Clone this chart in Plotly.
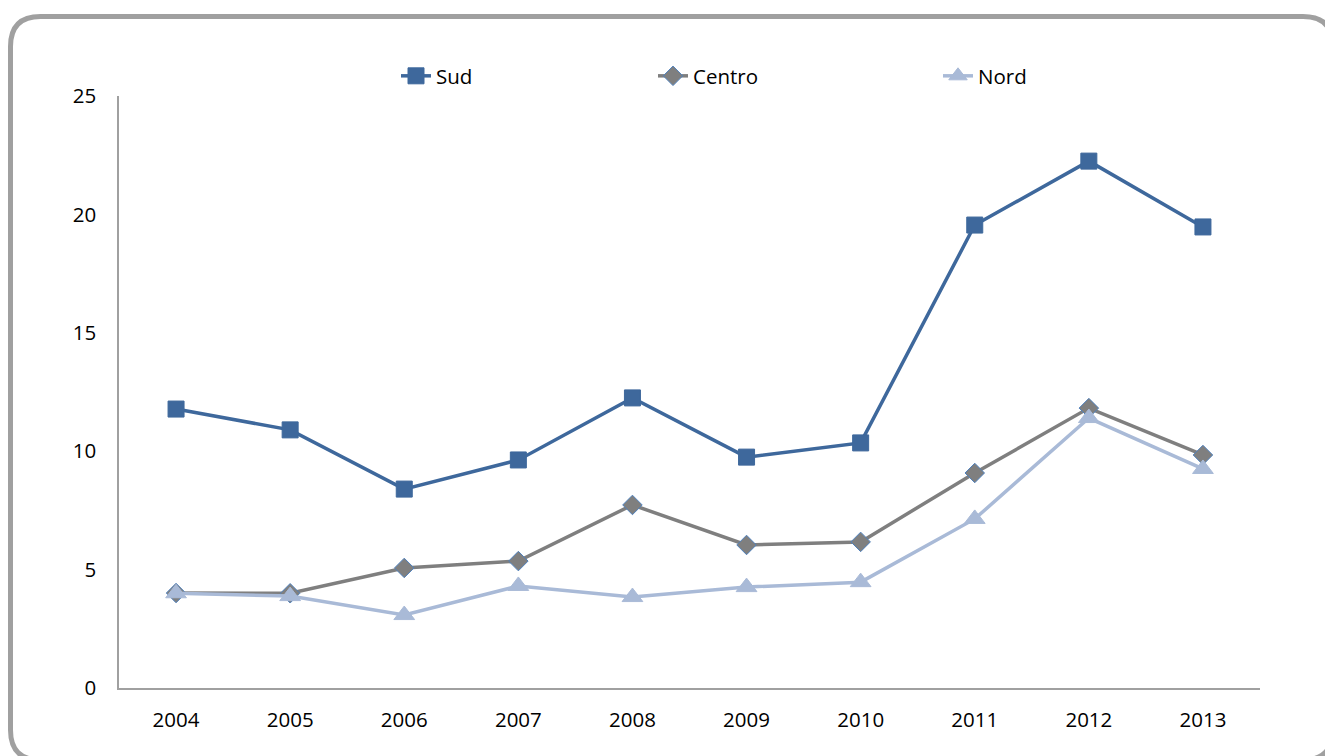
import plotly.graph_objects as go

years = ["2004", "2005", "2006", "2007", "2008", "2009", "2010", "2011", "2012", "2013"]
sud = [11.78, 10.9, 8.4, 9.63, 12.25, 9.75, 10.35, 19.55, 22.25, 19.47]
centro = [4.01, 4.0, 5.07, 5.36, 7.73, 6.04, 6.17, 9.08, 11.82, 9.84]
nord = [4.0, 3.88, 3.08, 4.31, 3.84, 4.26, 4.47, 7.14, 11.4, 9.25]
y_ticks = [0, 5, 10, 15, 20, 25]

FONT = "Open Sans"
FS = 20.5
W, H = 1325, 756
L, R, T, B = 119, 65, 96, 68
PW, PH = W - L - R, H - T - B


def px2x(px):
    return (px - L) / PW


def px2y(py):
    return (H - B - py) / PH


fig = go.Figure()
fig.add_trace(go.Scatter(
    x=years, y=sud, name="Sud", mode="lines+markers",
    line=dict(color="#3E689C", width=3.5),
    marker=dict(symbol="square", size=16, color="#3E689C", line=dict(color="#3E689C", width=1)),
    legend="legend",
))
fig.add_trace(go.Scatter(
    x=years, y=centro, name="Centro", mode="lines+markers",
    line=dict(color="#7F7F7F", width=3.5),
    marker=dict(symbol="diamond", size=15, color="#7F7F7F", line=dict(color="#4F81BD", width=1)),
    legend="legend2",
))
fig.add_trace(go.Scatter(
    x=years, y=nord, name="Nord", mode="lines+markers",
    line=dict(color="#A9BAD7", width=3.5),
    marker=dict(symbol="triangle-up", size=18, color="#A9BAD7", line=dict(color="#A9BAD7", width=1)),
    legend="legend3",
))

# Rounded frame
x0, x1, y0, y1, r = 10.5, 1333, 16.5, 760, 30


def P(px, py):
    return f"{px2x(px):.5f},{px2y(py):.5f}"


path = (f"M {P(x0 + r, y0)} L {P(x1 - r, y0)} Q {P(x1, y0)} {P(x1, y0 + r)} "
        f"L {P(x1, y1 - r)} Q {P(x1, y1)} {P(x1 - r, y1)} "
        f"L {P(x0 + r, y1)} Q {P(x0, y1)} {P(x0, y1 - r)} "
        f"L {P(x0, y0 + r)} Q {P(x0, y0)} {P(x0 + r, y0)} Z")
fig.add_shape(type="path", path=path, xref="paper", yref="paper",
              line=dict(color="#A0A0A0", width=5), layer="below")

leg_common = dict(orientation="h", yanchor="middle", xanchor="left",
                  font=dict(family=FONT, size=FS, color="#000000"),
                  bgcolor="rgba(0,0,0,0)", borderwidth=0, itemwidth=30)
fig.update_layout(
    width=W, height=H, showlegend=True,
    margin=dict(l=L, r=R, t=T, b=B, pad=0),
    paper_bgcolor="white", plot_bgcolor="white",
    font=dict(family=FONT, size=FS, color="#000000"),
    legend=dict(x=px2x(396), y=px2y(76), **leg_common),
    legend2=dict(x=px2x(653), y=px2y(76), **leg_common),
    legend3=dict(x=px2x(938), y=px2y(76), **leg_common),
    xaxis=dict(
        type="category", range=[-0.5, 9.5], showgrid=False, zeroline=False,
        showline=True, linecolor="#A0A0A0", linewidth=1.5, ticks="",
        tickfont=dict(family=FONT, size=FS, color="#000000"), ticklabelstandoff=13,
    ),
    yaxis=dict(
        range=[0, 25], tickvals=y_ticks, showgrid=False, zeroline=False,
        showline=True, linecolor="#A0A0A0", linewidth=1.5, ticks="",
        tickfont=dict(family=FONT, size=FS, color="#000000"), ticklabelstandoff=17,
    ),
)

fig.write_html("out.html")
